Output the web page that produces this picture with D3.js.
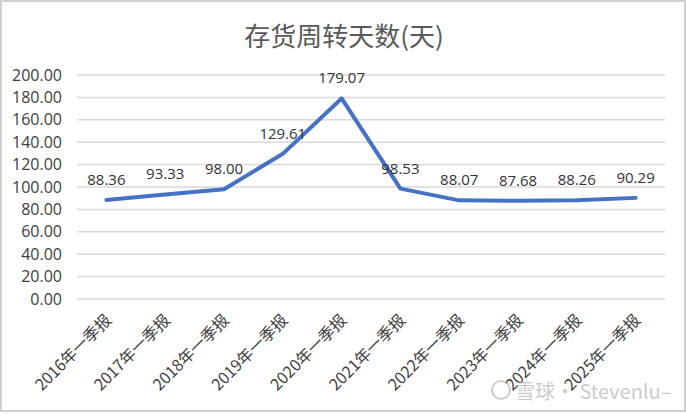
<!DOCTYPE html>
<html><head><meta charset="utf-8">
<script src="https://cdn.jsdelivr.net/npm/d3@7"></script>
<style>body{margin:0;background:#fff;}svg{display:block;}</style>
</head><body>
<svg id="c" width="686" height="414"></svg>
<script>
const categories = ["2016年一季报","2017年一季报","2018年一季报","2019年一季报","2020年一季报","2021年一季报","2022年一季报","2023年一季报","2024年一季报","2025年一季报"];
const values = [88.36, 93.33, 98.00, 129.61, 179.07, 98.53, 88.07, 87.68, 88.26, 90.29];
const yTicks = [0,20,40,60,80,100,120,140,160,180,200];
const title = "存货周转天数(天)";

const svg = d3.select("#c");
const W = 686, H = 414;
svg.append("rect").attr("x",1).attr("y",1).attr("width",W-2).attr("height",H-4)
  .attr("fill","#fff").attr("stroke","#d0d0d0").attr("stroke-width",2);

const x = d3.scaleBand().domain(categories).range([77,665]);
const y = d3.scaleLinear().domain([0,200]).range([299,75]);

svg.append("text").attr("x",344).attr("y",46).attr("text-anchor","middle")
  .attr("font-family","'Noto Sans CJK SC', sans-serif").attr("font-size",26)
  .attr("fill","#595959").text(title);

const grid = svg.append("g");
grid.selectAll("line").data(yTicks).join("line")
  .attr("x1",77).attr("x2",665).attr("y1",d=>y(d)).attr("y2",d=>y(d))
  .attr("stroke","#d9d9d9").attr("stroke-width",1.5);

const yAxis = d3.axisLeft(y).tickValues(yTicks).tickFormat(d3.format(".2f")).tickSize(0).tickPadding(0);
const ya = svg.append("g").attr("transform","translate(62,0)").call(yAxis);
ya.select(".domain").remove();
ya.selectAll("text").attr("font-family","'Open Sans', sans-serif").attr("font-size",16).attr("fill","#404040");

const xAxis = d3.axisBottom(x).tickSize(0).tickPadding(0);
const xa = svg.append("g").attr("transform","translate(0,299)").call(xAxis);
xa.select(".domain").remove();
xa.selectAll("text")
  .attr("font-family","'Noto Sans CJK SC', sans-serif").attr("font-size",16).attr("fill","#404040")
  .attr("text-anchor","end").attr("dy",null).attr("y",0)
  .attr("transform","translate(3,19) rotate(-45)")
  .attr("dominant-baseline","middle");

const line = d3.line().x((d,i)=>x(categories[i])+x.bandwidth()/2).y(d=>y(d));
svg.append("path").datum(values).attr("d",line).attr("fill","none")
  .attr("stroke","#4472C4").attr("stroke-width",4).attr("stroke-linejoin","round").attr("stroke-linecap","round");

svg.append("g").selectAll("text").data(values).join("text")
  .attr("x",(d,i)=>x(categories[i])+x.bandwidth()/2).attr("y",d=>y(d)-15)
  .attr("text-anchor","middle").attr("font-family","'Open Sans', sans-serif").attr("font-size",15)
  .attr("fill","#333").text(d=>d3.format(".2f")(d));

// watermark
const wm = svg.append("g").attr("opacity",0.6);
wm.append("circle").attr("cx",501).attr("cy",390).attr("r",9).attr("fill","none").attr("stroke","#aaa").attr("stroke-width",2);
wm.append("text").attr("x",515).attr("y",399).attr("font-family","'Noto Sans CJK SC', sans-serif")
  .attr("font-size",20).attr("fill","#aaa").text("雪球· Stevenlu–");
</script>
</body></html>
